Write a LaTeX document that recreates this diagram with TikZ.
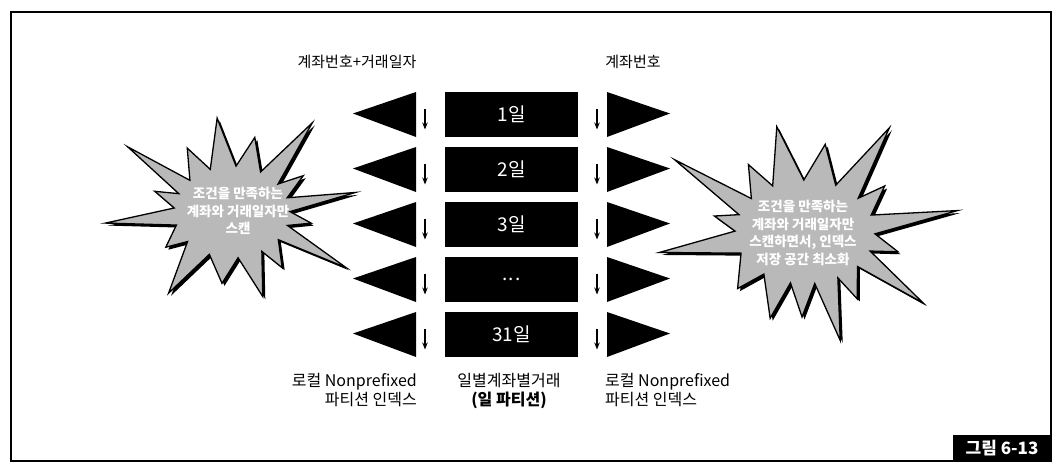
\documentclass[tikz,border=0pt]{standalone}
\usepackage{fontspec}
\setmainfont{Noto Sans CJK KR}
\usetikzlibrary{arrows.meta}
\tikzset{
  lbl/.style={font=\fontsize{16}{19}\selectfont, inner sep=0pt},
  daybox/.style={fill=black, text=white, minimum width=133pt, minimum height=45pt, inner sep=0pt, font=\fontsize{19}{22}\selectfont},
  tri/.style={fill=black},
  dnarrow/.style={line width=1.1pt, -{Stealth[length=7pt,width=5.5pt]}},
  burst/.style={fill=gray!55, draw=black, line width=1.3pt, line join=miter},
  burstshadow/.style={fill=black},
  bursttext/.style={align=center, text=white, font=\bfseries\fontsize{13.5}{17.5}\selectfont, inner sep=0pt},
}
\newcommand\threedots{.\kern1pt.\kern1pt.}
\newcommand\lstarpath{(212:123) -- (223.5:58 and 46) -- (235:78) -- (248:58 and 46) -- (261:95) -- (274:58 and 46) -- (287:78) -- (299.5:58 and 46) -- (312:120) -- (322.5:58 and 46) -- (333:80) -- (342:58 and 46) -- (351:125) -- (359.5:58 and 46) -- (8:80) -- (17:58 and 46) -- (26:127) -- (37:58 and 46) -- (48:75) -- (59:58 and 46) -- (70:90) -- (84:58 and 46) -- (98:72) -- (113:58 and 46) -- (128:103) -- (140:58 and 46) -- (152:75) -- (163.5:58 and 46) -- (175:127) -- (185:58 and 46) -- (195:80) -- (203.5:58 and 46) -- cycle}
\newcommand\rstarpath{(209:149) -- (220:70 and 52) -- (230:88) -- (242.5:70 and 52) -- (255:109) -- (269:70 and 52) -- (283:90) -- (296:70 and 52) -- (309:134) -- (319.5:70 and 52) -- (330:92) -- (341:70 and 52) -- (352:154) -- (2:70 and 52) -- (12:95) -- (21.5:70 and 52) -- (31:138) -- (41.5:70 and 52) -- (52:85) -- (62:70 and 52) -- (72:114) -- (82:70 and 52) -- (92:85) -- (102:70 and 52) -- (112:93) -- (126:70 and 52) -- (140:88) -- (156:70 and 52) -- (172:147) -- (181:70 and 52) -- (190:92) -- (199.5:70 and 52) -- cycle}
\begin{document}
\begin{tikzpicture}[x=1pt,y=-1pt]
\useasboundingbox (0,0) rectangle (1060,474);
\fill[white] (0,0) rectangle (1060,474);
% frame
\draw[line width=1.3pt] (11,12) rectangle (1051,461);
\node[fill=black, text=white, minimum width=98pt, minimum height=26pt, inner sep=0pt, font=\bfseries\fontsize{17}{19}\selectfont] (fig) at (1002,448) {그림 6-13};

% titles
\node[lbl, font=\fontsize{15}{18}\selectfont] (tl) at (357,62) {계좌번호+거래일자};
\node[lbl, font=\fontsize{15}{18}\selectfont] (tr) at (633,62) {계좌번호};

% rows
\foreach \i/\t in {1/1일,2/2일,3/3일,4/\threedots,5/31일}{
  \pgfmathsetmacro\c{114.5+55*(\i-1)}
  \node[daybox] (d\i) at (511.5,\c) {\t};
  \fill[tri] (416,\c-22.5) -- (416,\c+22.5) -- (353,\c-1) -- cycle;
  \fill[tri] (607,\c-22.5) -- (607,\c+22.5) -- (670,\c-1) -- cycle;
  \coordinate (la\i) at (425,\c-6);
  \coordinate (lb\i) at (425,\c+15);
  \coordinate (ra\i) at (597,\c-6);
  \coordinate (rb\i) at (597,\c+15);
  \draw[dnarrow] (la\i) -- (lb\i);
  \draw[dnarrow] (ra\i) -- (rb\i);
}

% bottom labels
\node[lbl, align=right, anchor=north east] (bl) at (417,373) {로컬 Nonprefixed\\파티션 인덱스};
\node[lbl, align=center, anchor=north] (bc) at (509,373) {일별계좌별거래\\\bfseries (일 파티션)};
\node[lbl, align=left, anchor=north west] (br) at (605,373) {로컬 Nonprefixed\\파티션 인덱스};

% left burst
\begin{scope}[shift={(234.5,214.5)}]
  \fill[burstshadow] \lstarpath;
\end{scope}
\begin{scope}[shift={(232,212)}]
  \path[burst] \lstarpath;
\end{scope}
\node[bursttext] (ls) at (238,211) {조건을 만족하는\\계좌와 거래일자만\\스캔};

% right burst
\begin{scope}[shift={(807.5,234.5)}]
  \fill[burstshadow] \rstarpath;
\end{scope}
\begin{scope}[shift={(805,232)}]
  \path[burst] \rstarpath;
\end{scope}
\node[bursttext] (rs) at (803,233) {조건을 만족하는\\계좌와 거래일자만\\스캔하면서, 인덱스\\저장 공간 최소화};
\end{tikzpicture}
\end{document}
